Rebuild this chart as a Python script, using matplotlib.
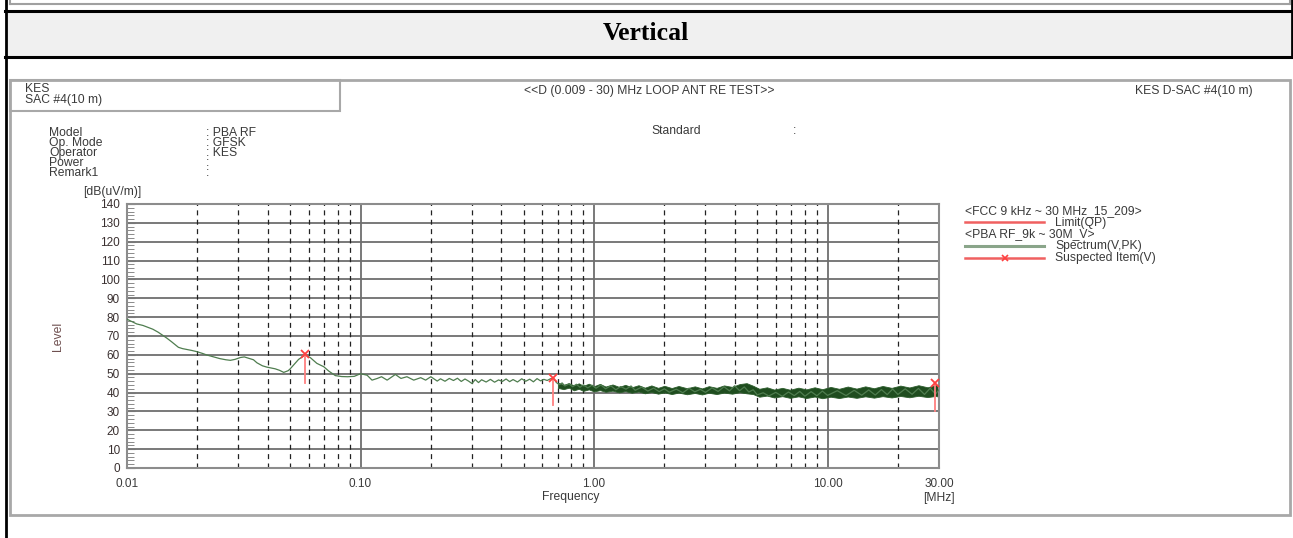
import matplotlib
matplotlib.use("Agg")
import matplotlib.pyplot as plt
from matplotlib.lines import Line2D
from matplotlib.patches import Rectangle
from matplotlib.ticker import MultipleLocator, NullLocator, FixedLocator

plt.rcParams['font.family'] = ['Liberation Sans', 'DejaVu Sans']

# ---- data ----
# spectrum trace (MHz, dBuV/m)
spec_f = [0.010, 0.0105, 0.011, 0.0117, 0.0123, 0.0129, 0.0136, 0.0142, 0.0148, 0.0155,
          0.0161, 0.0166, 0.0173, 0.018, 0.019, 0.0199, 0.021, 0.022, 0.0235, 0.025,
          0.0265, 0.0277, 0.029, 0.0306, 0.0318, 0.0332, 0.0348, 0.036, 0.038, 0.0397,
          0.0415, 0.0431, 0.045, 0.0469, 0.049, 0.050, 0.052, 0.0543, 0.058, 0.061,
          0.065, 0.0696, 0.0731, 0.078, 0.083, 0.088, 0.094, 0.100, 0.1067, 0.112,
          0.118, 0.123, 0.130, 0.141, 0.149, 0.158, 0.169, 0.181, 0.190, 0.200,
          0.213, 0.22, 0.23, 0.24, 0.25, 0.26, 0.27, 0.28, 0.29, 0.30,
          0.31, 0.32, 0.33, 0.345, 0.36, 0.375, 0.39, 0.405, 0.42, 0.435,
          0.45, 0.47, 0.49, 0.51, 0.53, 0.55, 0.57, 0.59, 0.61, 0.63,
          0.65, 0.67, 0.69, 0.71, 0.73, 0.75, 0.78, 0.81, 0.84, 0.87,
          0.90, 0.94, 0.98, 1.02, 1.07, 1.12, 1.18, 1.24, 1.30, 1.37,
          1.44, 1.50, 1.60, 1.70, 1.80, 1.90, 2.00, 2.10, 2.25, 2.40,
          2.55, 2.70, 2.85, 3.00, 3.20, 3.40, 3.60, 3.80, 4.00, 4.20,
          4.40, 4.60, 4.80, 5.00, 5.30, 5.60, 6.00, 6.40, 6.80, 7.20,
          7.60, 8.00, 8.50, 9.00, 9.50, 10.0, 11.0, 12.0, 13.0, 14.0,
          15.0, 16.0, 17.0, 18.0, 19.0, 20.0, 21.5, 23.0, 24.5, 26.0,
          27.5, 29.0, 30.0]
spec_lv = [78.9, 77.6, 76.4, 75.6, 74.6, 73.6, 72.0, 70.4, 68.9, 67.0,
           65.3, 64.0, 63.3, 62.9, 62.3, 61.7, 60.8, 59.9, 58.9, 58.0,
           57.4, 57.1, 57.6, 58.6, 58.9, 58.2, 57.4, 55.8, 54.2, 53.5,
           53.0, 52.6, 51.8, 50.7, 51.6, 52.6, 55.0, 57.6, 60.0, 58.5,
           55.5, 53.7, 51.4, 49.0, 48.5, 48.4, 48.6, 50.0, 49.2, 46.6,
           47.5, 48.4, 46.6, 49.6, 47.5, 48.4, 46.6, 47.9, 46.6, 48.4,
           46.1, 47.3, 46.0, 47.5, 46.4, 47.6, 45.9, 47.2, 46.1, 44.8,
           46.9, 45.3, 46.8, 45.6, 47.0, 45.5, 46.7, 45.9, 47.2, 45.8,
           46.9, 45.6, 47.3, 46.0, 47.1, 45.7, 47.4, 46.2, 47.0, 46.4,
           47.3, 47.6, 45.3, 44.2, 45.1, 43.5, 44.6, 43.1, 44.4, 42.8,
           44.1, 42.5, 43.9, 42.3, 44.0, 42.0, 43.6, 41.5, 43.2, 41.8,
           43.5, 41.2, 42.9, 40.8, 42.4, 40.5, 42.0, 40.2, 41.8, 39.9,
           42.3, 40.4, 41.7, 40.1, 42.5, 40.6, 43.1, 40.9, 43.6, 41.0,
           43.0, 40.3, 41.5, 38.8, 39.9, 38.2, 40.1, 38.0, 40.3, 38.4,
           40.6, 38.1, 40.5, 38.3, 40.8, 38.5, 41.0, 38.4, 41.2, 38.6,
           41.4, 38.7, 41.6, 38.9, 41.9, 39.0, 42.0, 39.1, 42.2, 39.0,
           42.3, 39.2, 41.5]

# dense part of the peak sweep, read as a min / max envelope
band_f = [0.70, 0.74, 0.78, 0.82, 0.86, 0.90, 0.95, 1.0, 1.06, 1.12,
          1.2, 1.28, 1.36, 1.45, 1.55, 1.65, 1.76, 1.88, 2.0, 2.15,
          2.3, 2.5, 2.7, 2.9, 3.1, 3.35, 3.6, 3.9, 4.2, 4.5,
          4.8, 5.1, 5.5, 5.9, 6.4, 6.9, 7.5, 8.1, 8.8, 9.5,
          10.3, 11.2, 12.2, 13.3, 14.5, 15.8, 17.2, 18.8, 20.5, 22.4,
          24.5, 26.8, 29.0, 30.0]
band_lo = [42.5, 41.8, 42.6, 41.2, 42.0, 40.9, 41.7, 40.6, 41.3, 40.4,
           41.0, 40.1, 40.8, 39.9, 40.6, 39.6, 40.3, 39.4, 40.1, 39.2,
           40.0, 39.1, 39.8, 39.0, 39.9, 39.2, 40.0, 39.4, 40.2, 39.6,
           39.2, 37.8, 38.4, 37.4, 38.1, 37.2, 38.0, 37.1, 37.9, 37.0,
           37.8, 37.1, 37.9, 37.2, 38.0, 37.3, 38.1, 37.4, 38.2, 37.5,
           38.3, 37.6, 38.2, 37.8]
band_hi = [45.2, 44.1, 45.0, 43.8, 44.9, 43.6, 44.7, 43.4, 44.6, 43.2,
           44.3, 43.0, 44.1, 42.8, 43.9, 42.6, 43.8, 42.5, 43.6, 42.4,
           43.5, 42.3, 43.3, 42.2, 43.4, 42.5, 43.8, 43.0, 44.5, 45.0,
           43.6, 42.0, 42.8, 41.6, 42.5, 41.5, 42.6, 41.7, 42.8, 41.8,
           43.0, 42.0, 43.2, 42.1, 43.3, 42.3, 43.5, 42.5, 43.7, 42.7,
           43.9, 42.8, 44.0, 43.6]

# suspected items: frequency, peak level, bottom of the marker stem
susp_f = [0.058, 0.67, 28.8]
susp_pk = [60.2, 47.6, 45.0]
susp_lo = [45.2, 33.3, 30.0]

x_ticks = [0.01, 0.1, 1, 10, 30]
x_labels = ['0.01', '0.10', '1.00', '10.00', '30.00']

info_labels = ['Model', 'Op. Mode', 'Operator', 'Power', 'Remark1']
info_values = [': PBA RF', ': GFSK', ': KES', ':', ':']

# ---- page layout (pixel helpers) ----
W, H = 1293, 538


def fx(x):
    return x / W


def fy(y):
    return 1 - y / H


fig = plt.figure(figsize=(W / 100, H / 100), dpi=100)
fig.patch.set_facecolor('white')

TXT = '#3a3a3a'
FS = 8.7


def hline(x0, x1, y, **kw):
    fig.add_artist(Line2D([fx(x0), fx(x1)], [fy(y), fy(y)], transform=fig.transFigure, **kw))


def vline(x, y0, y1, **kw):
    fig.add_artist(Line2D([fx(x), fx(x)], [fy(y0), fy(y1)], transform=fig.transFigure, **kw))


def rect(x0, y0, x1, y1, **kw):
    fig.add_artist(Rectangle((fx(x0), fy(y1)), fx(x1) - fx(x0), fy(y0) - fy(y1),
                             transform=fig.transFigure, **kw))


# remains of the box above
hline(10, 1290, 4, color='#a0a0a0', lw=1.5)
vline(10, 0, 4, color='#a0a0a0', lw=1.5)
vline(1290, 0, 4, color='#a0a0a0', lw=1.5)

# "Vertical" header row
rect(6, 11, 1291, 57, facecolor='#f0f0f0', edgecolor='none')
hline(5, 1292, 11, color='black', lw=2.2)
hline(5, 1292, 57, color='black', lw=2.2)
vline(6, 0, 538, color='black', lw=2)
vline(1291.5, 0, 57, color='black', lw=2)
fig.text(fx(646), fy(34), 'Vertical', ha='center', va='center', fontsize=18.5,
         fontweight='bold', family='Liberation Serif', color='black')

# report frame
rect(10, 80, 1290, 515, facecolor='white', edgecolor='#a8a8a8', lw=2)
rect(10, 80, 340, 111, facecolor='none', edgecolor='#a8a8a8', lw=1.5)
fig.text(fx(25), fy(89), 'KES', ha='left', va='center', fontsize=FS, color=TXT)
fig.text(fx(25), fy(100), 'SAC #4(10 m)', ha='left', va='center', fontsize=FS, color=TXT)
fig.text(fx(649), fy(91), '<<D (0.009 - 30) MHz LOOP ANT RE TEST>>', ha='center', va='center',
         fontsize=FS, color=TXT)
fig.text(fx(1253), fy(91), 'KES D-SAC #4(10 m)', ha='right', va='center', fontsize=FS, color=TXT)

for i, (lab, val) in enumerate(zip(info_labels, info_values)):
    yy = 132.5 + 10.2 * i
    fig.text(fx(49), fy(yy), lab, ha='left', va='center', fontsize=FS, color=TXT)
    fig.text(fx(206), fy(yy), val, ha='left', va='center', fontsize=FS, color=TXT)
fig.text(fx(651), fy(131), 'Standard', ha='left', va='center', fontsize=FS, color=TXT)
fig.text(fx(793), fy(131), ':', ha='left', va='center', fontsize=FS, color=TXT)

# ---- the chart ----
ax = fig.add_axes([fx(127), fy(468), (939 - 127) / W, (468 - 204) / H])
ax.set_zorder(10)
ax.set_facecolor('white')
ax.set_xscale('log')
ax.set_xlim(0.01, 30)
ax.set_ylim(0, 140)

for v in range(10, 140, 10):
    ax.axhline(v, color='#6e6e6e', lw=1.3, zorder=1)
for d in [0.1, 1, 10]:
    ax.axvline(d, color='#6e6e6e', lw=1.3, zorder=1)
for d in [0.01, 0.1, 1]:
    for m in range(2, 10):
        ax.axvline(d * m, color='#222222', lw=0.9, ls=(0, (4, 3.5)), zorder=1)
ax.axvline(20, color='#222222', lw=0.9, ls=(0, (4, 3.5)), zorder=1)

ax.fill_between(band_f, band_lo, band_hi, color='#1f4d1f', lw=0.6, edgecolor='#2d5e2d', zorder=2)
ax.plot(spec_f, spec_lv, color='#4f7d4f', lw=0.9, zorder=3)

for f, pk, lo in zip(susp_f, susp_pk, susp_lo):
    ax.plot([f, f], [lo, pk], color='#ff8080', lw=1.3, zorder=4)
ax.plot(susp_f, susp_pk, ls='none', marker='x', ms=5.5, mew=1.3, color='#ff4040', zorder=5)

ax.xaxis.set_major_locator(FixedLocator(x_ticks))
ax.xaxis.set_minor_locator(NullLocator())
ax.set_xticklabels(x_labels)
ax.yaxis.set_major_locator(MultipleLocator(10))
ax.yaxis.set_minor_locator(MultipleLocator(2))
ax.tick_params(axis='x', length=0, pad=7, labelsize=8.5, labelcolor=TXT)
ax.tick_params(axis='y', which='both', direction='in', color='#777777', labelsize=8.5,
               labelcolor='#3a3030', pad=5)
ax.tick_params(axis='y', which='major', length=6)
ax.tick_params(axis='y', which='minor', length=5)
for s in ax.spines.values():
    s.set_color('#8c8c8c')
    s.set_linewidth(1.5)

fig.text(fx(112), fy(192), '[dB(uV/m)]', ha='center', va='center', fontsize=FS, color=TXT)
fig.text(fx(58), fy(336), 'Level', ha='center', va='center', rotation=90, fontsize=FS,
         color='#6e4f4f')
fig.text(fx(571), fy(497), 'Frequency', ha='center', va='center', fontsize=FS, color=TXT)
fig.text(fx(939), fy(498), '[MHz]', ha='center', va='center', fontsize=FS, color=TXT)

# ---- legend block ----
fig.text(fx(965), fy(211), '<FCC 9 kHz ~ 30 MHz_15_209>', ha='left', va='center',
         fontsize=FS, color=TXT)
hline(965, 1044, 222, color='#f06060', lw=1.8)
fig.text(fx(1055), fy(223), 'Limit(QP)', ha='left', va='center', fontsize=FS, color=TXT)
fig.text(fx(965), fy(234), '<PBA RF_9k ~ 30M_V>', ha='left', va='center', fontsize=FS, color=TXT)
hline(965, 1044, 246, color='#8aa58a', lw=2.2)
fig.text(fx(1055), fy(246), 'Spectrum(V,PK)', ha='left', va='center', fontsize=FS, color=TXT)
hline(965, 1044, 258, color='#f06060', lw=1.8)
fig.add_artist(Line2D([fx(1005)], [fy(258)], transform=fig.transFigure, marker='x', ms=5,
                      mew=1.2, color='#ff4040', ls='none'))
fig.text(fx(1055), fy(258), 'Suspected Item(V)', ha='left', va='center', fontsize=FS, color=TXT)

fig.savefig('out.png', dpi=100)
